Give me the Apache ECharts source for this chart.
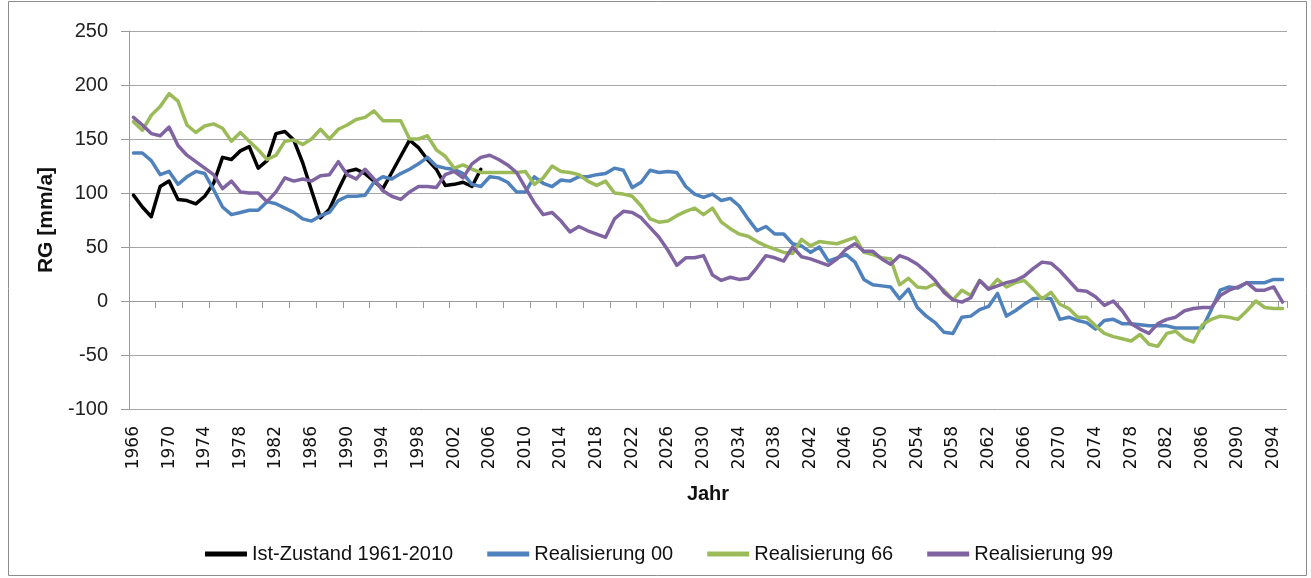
<!DOCTYPE html>
<html>
<head>
<meta charset="utf-8">
<title>RG [mm/a]</title>
<script src="https://cdn.jsdelivr.net/npm/echarts@6/dist/echarts.min.js"></script>
<style>
  html, body { margin: 0; padding: 0; background: #fff; }
  #chart { width: 1311px; height: 578px; }
</style>
</head>
<body>
<div id="chart"></div>
<script>
// Years on the category axis
const years = [
  1966,1967,1968,1969,1970,1971,1972,1973,1974,1975,
  1976,1977,1978,1979,1980,1981,1982,1983,1984,1985,
  1986,1987,1988,1989,1990,1991,1992,1993,1994,1995,
  1996,1997,1998,1999,2000,2001,2002,2003,2004,2005,
  2006,2007,2008,2009,2010,2011,2012,2013,2014,2015,
  2016,2017,2018,2019,2020,2021,2022,2023,2024,2025,
  2026,2027,2028,2029,2030,2031,2032,2033,2034,2035,
  2036,2037,2038,2039,2040,2041,2042,2043,2044,2045,
  2046,2047,2048,2049,2050,2051,2052,2053,2054,2055,
  2056,2057,2058,2059,2060,2061,2062,2063,2064,2065,
  2066,2067,2068,2069,2070,2071,2072,2073,2074,2075,
  2076,2077,2078,2079,2080,2081,2082,2083,2084,2085,
  2086,2087,2088,2089,2090,2091,2092,2093,2094,2095
];

// Observed state (1966-2005)
const istZustand = [
  98, 87, 78, 106, 111, 94, 93, 90, 97, 109,
  133, 131, 139, 143, 123, 130, 155, 157, 149, 128,
  102, 77, 85, 103, 120, 122, 118, 111, 104, 119,
  134, 149, 142, 131, 122, 107, 108, 110, 106, 122
];

// Realisierung 00
const real00 = [
  137, 137, 130, 117, 120, 108, 115, 120, 118, 103,
  87, 80, 82, 84, 84, 92, 90, 86, 82, 76,
  74, 79, 82, 93, 97, 97, 98, 110, 115, 113,
  118, 122, 127, 133, 125, 123, 122, 118, 108, 106,
  115, 114, 110, 101, 101, 115, 109, 106, 112, 111,
  115, 115, 117, 118, 123, 121, 105, 110, 121, 119,
  120, 119, 106, 99, 96, 99, 93, 95, 88, 76,
  65, 69, 62, 62, 53, 51, 45, 50, 37, 40,
  43, 36, 20, 15, 14, 13, 2, 11, -6, -14,
  -20, -29, -30, -15, -14, -8, -5, 7, -14, -9,
  -3, 2, 3, 2, -17, -15, -18, -20, -26, -18,
  -17, -21, -21, -22, -23, -23, -23, -25, -25, -25,
  -25, -8, 10, 13, 12, 17, 17, 17, 20, 20
];

// Realisierung 66
const real66 = [
  166, 158, 172, 180, 192, 185, 163, 156, 162, 164,
  160, 148, 156, 148, 140, 131, 135, 148, 149, 145,
  150, 159, 150, 159, 163, 168, 170, 176, 167, 167,
  167, 150, 150, 153, 140, 134, 123, 126, 122, 119,
  119, 119, 119, 119, 120, 108, 114, 125, 120, 119,
  117, 111, 107, 111, 100, 99, 97, 88, 76, 73,
  74, 79, 83, 86, 80, 86, 73, 67, 62, 60,
  55, 51, 48, 45, 44, 57, 51, 55, 54, 53,
  56, 59, 45, 43, 40, 39, 15, 21, 13, 12,
  16, 10, 1, 10, 5, 19, 11, 20, 13, 17,
  19, 11, 2, 8, -3, -7, -15, -15, -23, -30,
  -33, -35, -37, -31, -40, -42, -30, -28, -35, -38,
  -22, -17, -14, -15, -17, -9, 0, -6, -7, -7
];

// Realisierung 99
const real99 = [
  170, 163, 155, 153, 161, 144, 135, 129, 123, 117,
  104, 111, 101, 100, 100, 92, 101, 114, 111, 113,
  111, 116, 117, 129, 117, 113, 122, 113, 102, 97,
  94, 101, 106, 106, 105, 117, 120, 114, 127, 133,
  135, 131, 126, 119, 105, 91, 80, 82, 74, 64,
  69, 65, 62, 59, 76, 83, 82, 77, 68, 59,
  47, 33, 40, 40, 42, 24, 19, 22, 20, 21,
  31, 42, 40, 37, 50, 41, 39, 36, 33, 39,
  48, 53, 46, 46, 39, 34, 42, 39, 34, 27,
  19, 8, 1, -1, 3, 19, 11, 14, 17, 19,
  23, 30, 36, 35, 28, 19, 10, 9, 4, -4,
  0, -9, -21, -26, -30, -21, -17, -15, -9, -7,
  -6, -6, 5, 10, 13, 17, 10, 10, 13, -1
];

const seriesNames = ['Ist-Zustand 1961-2010', 'Realisierung 00', 'Realisierung 66', 'Realisierung 99'];
const seriesColors = ['#000000', '#4F81BD', '#9BBB59', '#8064A2'];
const seriesData = [istZustand, real00, real66, real99];

const axisGray = '#9a9a9a';
const textFont = 'Liberation Sans, Arial, sans-serif';

const chart = echarts.init(document.getElementById('chart'), null, { renderer: 'canvas' });

const option = {
  animation: false,
  backgroundColor: '#ffffff',
  graphic: [{
    type: 'rect',
    shape: { x: 8.5, y: 1.5, width: 1298, height: 574 },
    style: { fill: 'none', stroke: '#8c8c8c', lineWidth: 1 },
    z: -10
  }],
  grid: { left: 129, right: 24, top: 31, bottom: 169 },
  legend: {
    data: seriesNames,
    left: 200,
    top: 539,
    icon: 'rect',
    itemWidth: 42,
    itemHeight: 5,
    itemGap: 34,
    textStyle: { fontFamily: textFont, fontSize: 20, color: '#111' }
  },
  xAxis: [
    {
      // year labels along the bottom edge
      type: 'category',
      data: years,
      position: 'bottom',
      boundaryGap: true,
      axisLine: { show: false, onZero: false },
      axisTick: { show: false },
      splitLine: { show: false },
      axisLabel: {
        interval: 3,
        rotate: 90,
        margin: 17,
        fontFamily: 'DejaVu Sans, sans-serif',
        fontSize: 17,
        color: '#111'
      },
      name: 'Jahr',
      nameLocation: 'middle',
      nameGap: 75,
      nameTextStyle: { fontFamily: textFont, fontSize: 20, fontWeight: 'bold', color: '#111' }
    },
    {
      // axis line with ticks crossing at zero
      type: 'category',
      data: years,
      position: 'bottom',
      boundaryGap: true,
      axisLine: { show: true, onZero: true, lineStyle: { color: axisGray, width: 1 } },
      axisTick: { show: true, interval: 2, length: 7, lineStyle: { color: axisGray, width: 1 } },
      axisLabel: { show: false },
      splitLine: { show: false }
    }
  ],
  yAxis: {
    type: 'value',
    min: -100,
    max: 250,
    interval: 50,
    axisLine: { show: true, lineStyle: { color: axisGray, width: 1 } },
    axisTick: { show: true, length: 8, lineStyle: { color: axisGray, width: 1 } },
    splitLine: { show: true, lineStyle: { color: '#a6a6a6', width: 1 } },
    axisLabel: { margin: 21, fontFamily: textFont, fontSize: 20, color: '#222' },
    name: 'RG [mm/a]',
    nameLocation: 'middle',
    nameGap: 72,
    nameTextStyle: { fontFamily: textFont, fontSize: 21, fontWeight: 'bold', color: '#111' }
  },
  series: seriesNames.map((name, i) => ({
    name: name,
    type: 'line',
    data: seriesData[i],
    xAxisIndex: 0,
    yAxisIndex: 0,
    symbol: 'none',
    showSymbol: false,
    connectNulls: false,
    itemStyle: { color: seriesColors[i] },
    lineStyle: { color: seriesColors[i], width: 3.5, join: 'round', cap: 'round' },
    z: 2 + i
  }))
};

chart.setOption(option);
</script>
</body>
</html>
